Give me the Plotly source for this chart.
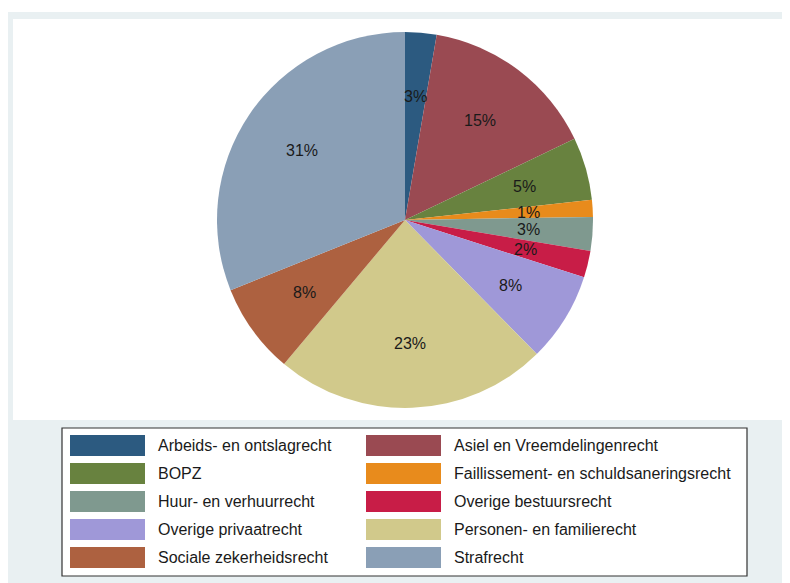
"""
Pie chart of case shares per legal field (Stata s2color look).
"""

import math
import plotly.graph_objects as go

# data
categories = [
    "Arbeids- en ontslagrecht",
    "Asiel en Vreemdelingenrecht",
    "BOPZ",
    "Faillissement- en schuldsaneringsrecht",
    "Huur- en verhuurrecht",
    "Overige bestuursrecht",
    "Overige privaatrecht",
    "Personen- en familierecht",
    "Sociale zekerheidsrecht",
    "Strafrecht",
]
shares = [2.7, 15.2, 5.4, 1.45, 2.9, 2.3, 7.7, 23.5, 7.8, 31.1]

colors = [
    "#2c5a80", "#9a4a52", "#68823f", "#e88b1c", "#7f998f",
    "#c81d47", "#9f98d8", "#d1c98b", "#ad6140", "#8a9fb6",
]

W, H = 790, 583
OFF = 8                      # page body margin, positions below are window pixels
CX, CY, R = 405, 220, 188    # pie centre / radius
FONT = "Liberation Sans, Arial, sans-serif"


def px(x):
    return (x - OFF) / W


def py(y):
    return 1 - (y - OFF) / H


fig = go.Figure(
    go.Pie(
        labels=categories,
        values=shares,
        sort=False,
        direction="clockwise",
        rotation=0,
        marker=dict(colors=colors, line=dict(width=0)),
        textinfo="none",
        hoverinfo="label+percent",
        domain=dict(x=[px(CX - R), px(CX + R)], y=[py(CY + R), py(CY - R)]),
        showlegend=False,
    )
)

shapes = [
    # outer graph region and inner plot region
    dict(type="rect", xref="paper", yref="paper", x0=0, x1=1, y0=0, y1=py(12),
         fillcolor="#e9f0f2", line=dict(width=0), layer="below"),
    dict(type="rect", xref="paper", yref="paper", x0=px(13), x1=1, y0=py(420), y1=py(19),
         fillcolor="white", line=dict(width=0), layer="below"),
    # legend box
    dict(type="rect", xref="paper", yref="paper", x0=px(62), x1=px(747), y0=py(576), y1=py(428),
         fillcolor="white", line=dict(color="#333333", width=1.2), layer="below"),
]

annotations = []

# percent labels at 2/3 of the radius, in the middle of every slice
total = sum(shares)
cum = 0
for v in shares:
    mid = (cum + v / 2) / total * 2 * math.pi
    cum += v
    lx = CX + 0.66 * R * math.sin(mid)
    ly = CY - 0.66 * R * math.cos(mid)
    annotations.append(dict(
        x=px(lx), y=py(ly), xref="paper", yref="paper", showarrow=False,
        xanchor="center", yanchor="middle",
        text=f"{v / total:.0%}", font=dict(family=FONT, size=16, color="#1a1a1a"),
    ))

# legend, two columns filled row by row
for i, (name, col) in enumerate(zip(categories, colors)):
    row, c = divmod(i, 2)
    sx = 70 if c == 0 else 366
    top = 435 + row * 28
    shapes.append(dict(type="rect", xref="paper", yref="paper",
                       x0=px(sx), x1=px(sx + 75), y0=py(top + 21), y1=py(top),
                       fillcolor=col, line=dict(width=0)))
    annotations.append(dict(
        x=px(sx + 86), y=py(top + 10.5), xref="paper", yref="paper",
        xanchor="left", yanchor="middle", showarrow=False, text=name,
        font=dict(family=FONT, size=16, color="#1a1a1a"),
    ))

fig.update_layout(
    width=W, height=H,
    margin=dict(l=0, r=0, t=0, b=0),
    paper_bgcolor="white",
    plot_bgcolor="white",
    shapes=shapes,
    annotations=annotations,
    showlegend=False,
)

fig.write_html("out.html")
